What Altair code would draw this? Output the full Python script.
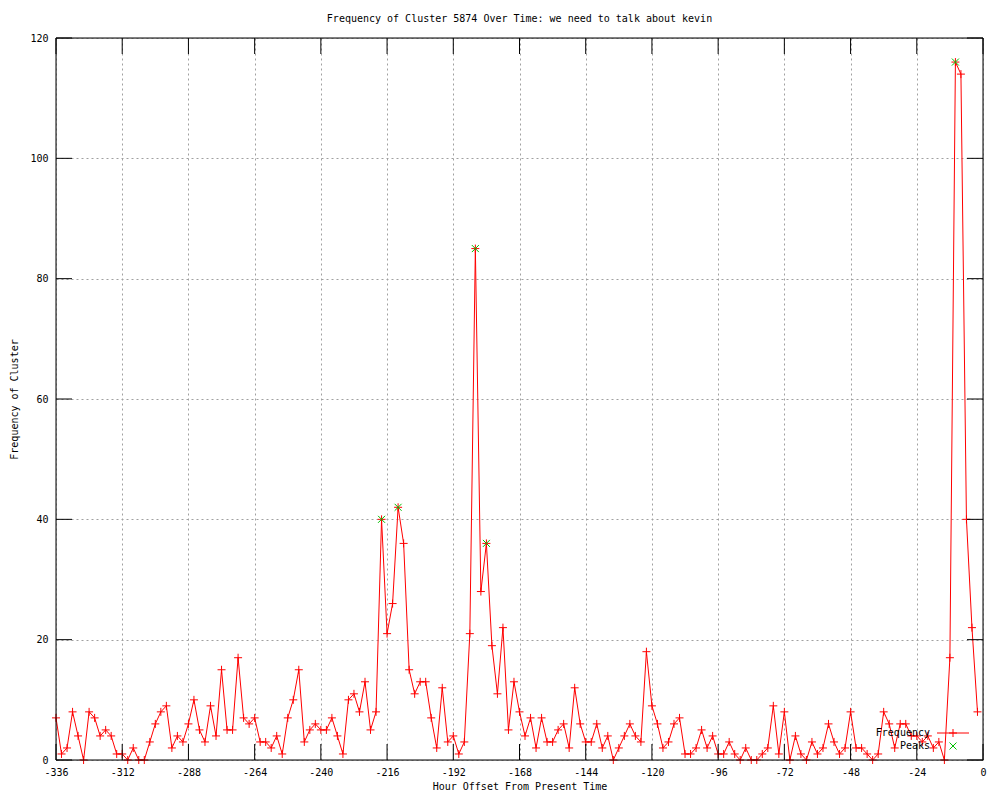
import altair as alt
import pandas as pd

# ---- data ----
hours = list(range(-336, 0, 2))
frequency = [
    7, 1, 2, 8, 4, 0, 8, 7, 4, 5, 4, 1, 1, 0, 2, 0, 0, 3, 6, 8, 9, 2, 4, 3, 6, 10, 5, 3, 9, 4,
    15, 5, 5, 17, 7, 6, 7, 3, 3, 2, 4, 1,
    7, 10, 15, 3, 5, 6, 5, 5, 7, 4, 1, 10, 11, 8, 13, 5, 8,
    40, 21, 26, 42, 36,
    15, 11, 13, 13, 7, 2, 12, 3, 4, 1, 3,
    21, 85, 28, 36, 19, 11, 22, 5,
    13, 8, 4, 7, 2, 7, 3, 3, 5, 6, 2, 12, 6, 3, 3, 6, 2, 4, 0, 2, 4, 6, 4, 3, 18, 9, 6, 2, 3,
    6, 7, 1, 1, 2, 5, 2, 4, 1, 1, 3, 1, 0,
    2, 0, 0, 1, 2, 9, 1, 8, 0, 4, 1, 0, 3, 1, 2, 6, 3, 1, 2, 8, 2, 2, 1, 0, 1, 8, 6, 2, 6, 6,
    4, 4, 3, 4, 2, 3, 0, 17, 116, 114, 40, 22, 8,
]
peak_hours = [-218, -212, -184, -180, -10]
peak_values = [40, 42, 85, 36, 116]
x_ticks = [-336, -312, -288, -264, -240, -216, -192, -168, -144, -120, -96, -72, -48, -24, 0]
y_ticks = [0, 20, 40, 60, 80, 100, 120]
legend_labels = ["Frequency", "Peaks"]
title_text = "Frequency of Cluster 5874 Over Time: we need to talk about kevin"

df = pd.DataFrame({"hour": hours, "freq": frequency})
peaks_df = pd.DataFrame({"hour": peak_hours, "freq": peak_values})
xt_df = pd.DataFrame({"hour": x_ticks})
yt_df = pd.DataFrame({"freq": y_ticks})

W, H = 927, 722
TICK = 16
FONT = "DejaVu Sans Mono"
RED = "#ff0000"
GREEN = "#00c000"
GRID = "#a0a0a0"
PLUS = "M-1,0L1,0M0,-1L0,1"
CROSS = "M-1,-1L1,1M1,-1L-1,1"

x_scale = alt.Scale(domain=[-336, 0], nice=False, zero=False)
y_scale = alt.Scale(domain=[0, 120], nice=False, zero=False)

common_axis = dict(
    grid=True, gridColor=GRID, gridDash=[2, 3], gridWidth=1, gridOpacity=1,
    ticks=False, domain=False,
    labelFont=FONT, labelFontSize=10, labelColor="black",
    titleFont=FONT, titleFontSize=10, titleFontWeight="normal", titleColor="black",
    labelFlush=False, labelOverlap=False,
)

x_axis = alt.Axis(values=x_ticks, title="Hour Offset From Present Time",
                  labelExpr="'' + datum.value", labelPadding=7, titlePadding=4,
                  **common_axis)
y_axis = alt.Axis(values=y_ticks, title="Frequency of Cluster",
                  labelExpr="'' + datum.value", labelPadding=8, titlePadding=10,
                  **common_axis)

X = alt.X("hour:Q", scale=x_scale, axis=x_axis)
Y = alt.Y("freq:Q", scale=y_scale, axis=y_axis)

base = alt.Chart(df)

line = base.mark_line(color=RED, strokeWidth=1).encode(x=X, y=Y)

pts = base.mark_point(shape=PLUS, size=64, filled=False, color=RED,
                      strokeWidth=1, opacity=1).encode(x=X, y=Y)

peaks = alt.Chart(peaks_df).mark_point(shape=CROSS, size=49, filled=False, color=GREEN,
                                       strokeWidth=1, opacity=1).encode(x=X, y=Y)

xt_bottom = alt.Chart(xt_df).mark_rule(color="black", strokeWidth=1).encode(
    x=X, y=alt.value(H), y2=alt.value(H - TICK))
xt_top = alt.Chart(xt_df).mark_rule(color="black", strokeWidth=1).encode(
    x=X, y=alt.value(0), y2=alt.value(TICK))
yt_left = alt.Chart(yt_df).mark_rule(color="black", strokeWidth=1).encode(
    y=Y, x=alt.value(0), x2=alt.value(TICK))
yt_right = alt.Chart(yt_df).mark_rule(color="black", strokeWidth=1).encode(
    y=Y, x=alt.value(W), x2=alt.value(W - TICK))

frame = alt.Chart(pd.DataFrame({"a": [0]})).mark_rect(
    fillOpacity=0, stroke="black", strokeWidth=1).encode(
    x=alt.value(0), x2=alt.value(W), y=alt.value(0), y2=alt.value(H))

# ---- key (bottom right, inside) ----
LX_TEXT, LX0, LX1, LXM = 874, 881, 913, 897
LY1, LY2 = 695, 708
key_text1 = alt.Chart(pd.DataFrame({"label": [legend_labels[0]]})).mark_text(
    align="right", baseline="middle", font=FONT, fontSize=10, color="black").encode(
    x=alt.value(LX_TEXT), y=alt.value(LY1), text="label:N")
key_text2 = alt.Chart(pd.DataFrame({"label": [legend_labels[1]]})).mark_text(
    align="right", baseline="middle", font=FONT, fontSize=10, color="black").encode(
    x=alt.value(LX_TEXT), y=alt.value(LY2), text="label:N")
key_line = alt.Chart(pd.DataFrame({"a": [0]})).mark_rule(color=RED, strokeWidth=1).encode(
    x=alt.value(LX0), x2=alt.value(LX1), y=alt.value(LY1))
key_plus = alt.Chart(pd.DataFrame({"a": [0]})).mark_point(
    shape=PLUS, size=64, filled=False, color=RED, strokeWidth=1, opacity=1).encode(
    x=alt.value(LXM), y=alt.value(LY1))
key_cross = alt.Chart(pd.DataFrame({"a": [0]})).mark_point(
    shape=CROSS, size=49, filled=False, color=GREEN, strokeWidth=1, opacity=1).encode(
    x=alt.value(LXM), y=alt.value(LY2))

chart = alt.layer(
    line, pts, peaks, xt_bottom, xt_top, yt_left, yt_right, frame,
    key_text1, key_text2, key_line, key_plus, key_cross,
).properties(
    width=W, height=H,
    title=alt.TitleParams(title_text, font=FONT, fontSize=10, fontWeight="normal",
                          anchor="middle", offset=9, color="black"),
    autosize=alt.AutoSizeParams(type="none"),
    padding={"left": 48, "top": 30, "right": 9, "bottom": 32},
).configure_view(stroke=None).configure(background="white")

chart.save("out.html", embed_options={"renderer": "svg", "actions": False})
